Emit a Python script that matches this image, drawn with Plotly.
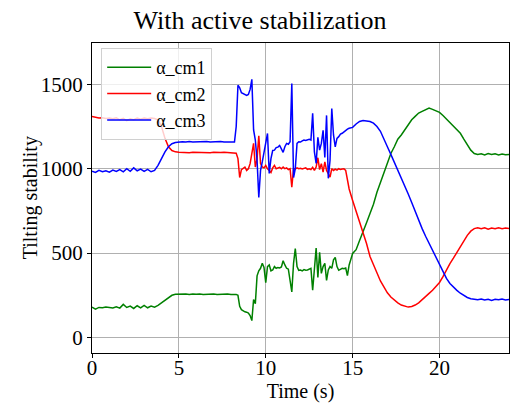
import numpy as np
import plotly.graph_objects as go

# time axis (s): coarse, fine in the oscillating part, coarse again
t_a = np.round(np.arange(0.0, 8.21, 0.2), 1)
t_b = np.round(np.arange(8.3, 14.81, 0.1), 1)
t_c = np.round(np.arange(15.0, 24.01, 0.2), 1)
time = np.concatenate([t_a, t_b, t_c])

cm1_a = [180, 168, 178, 176, 180, 177, 175, 182, 174, 196, 178, 186, 172, 188, 175, 190, 176, 186, 180, 190,
         205, 222, 238, 250, 256, 258, 257, 258, 255, 258, 256, 258, 255, 257, 256, 258, 255, 257, 256, 258, 255, 257]
cm1_b = [255, 250, 185, 165, 158, 152, 150, 145, 130, 100, 225, 200, 365, 395, 410, 440, 415, 325, 420, 430,
         395, 400, 420, 410, 415, 412, 418, 455, 430, 410, 405, 340, 270, 440, 527, 420, 398, 400, 395, 402,
         398, 400, 405, 410, 280, 400, 530, 355, 505, 380, 420, 440, 338, 400, 420, 410, 460, 475, 420, 398,
         405, 410, 408, 412, 367, 430]
cm1_c = [498, 520, 575, 622, 680, 735, 790, 860, 920, 980, 1040, 1090, 1130, 1175, 1200, 1230, 1260, 1290, 1310, 1330,
         1340, 1350, 1360, 1352, 1345, 1334, 1315, 1295, 1274, 1255, 1230, 1210, 1175, 1140, 1110, 1090, 1085, 1088, 1082, 1090,
         1084, 1088, 1082, 1087, 1083, 1085]

cm2_a = [1310, 1305, 1300, 1302, 1298, 1300, 1296, 1302, 1290, 1298, 1285, 1296, 1290, 1300, 1294, 1300, 1296, 1300, 1298, 1290,
         1250, 1180, 1130, 1108, 1100, 1098, 1096, 1097, 1095, 1097, 1096, 1095, 1097, 1096, 1095, 1097, 1095, 1096, 1097, 1095,
         1096, 1094]
cm2_b = [1092, 1060, 948, 995, 1005, 1010, 990, 1000, 1030, 1080, 1150, 1010, 1060, 1195, 1030, 1010, 1005, 1020, 1000, 990,
         978, 1005, 1020, 1000, 1005, 1008, 1000, 1010, 1000, 1005, 995, 1000, 890, 1000, 998, 1005, 1000, 1002, 998, 1000,
         1005, 996, 1000, 995, 1008, 990, 1010, 1065, 995, 1030, 980, 1040, 990, 970, 950, 1000, 990, 998, 992, 1000,
         995, 998, 1000, 990, 930, 880]
cm2_c = [812, 750, 693, 625, 557, 480, 430, 380, 335, 300, 265, 240, 222, 205, 192, 186, 180, 184, 192, 205,
         222, 240, 261, 280, 300, 326, 360, 400, 438, 470, 505, 540, 575, 605, 630, 645, 650, 645, 650, 642,
         648, 644, 650, 645, 648, 645]

cm3_a = [985, 978, 990, 982, 988, 980, 992, 984, 995, 982, 1000, 985, 1005, 988, 998, 984, 996, 982, 990, 1020,
         1060, 1100, 1130, 1148, 1155, 1158, 1160, 1158, 1161, 1159, 1160, 1158, 1160, 1161, 1158, 1160, 1159, 1161, 1158, 1160,
         1159, 1158]
cm3_b = [1250, 1495, 1480, 1450, 1445, 1440, 1435, 1440, 1470, 1530, 1230, 1170, 1050, 830, 990, 1040, 1090, 1150, 1209, 972,
         1060, 1108, 1110, 1125, 1128, 1138, 1120, 1097, 1130, 1150, 1145, 1160, 1505, 948, 1000, 1150, 1160, 1158, 1165, 1170,
         1168, 1172, 1175, 1170, 1328, 1100, 1031, 1186, 1110, 1150, 1227, 1067, 1316, 943, 1050, 1357, 1200, 1130, 1180, 1190,
         1205, 1210, 1220, 1227, 1235, 1240]
cm3_c = [1245, 1265, 1280, 1286, 1285, 1280, 1270, 1250, 1222, 1180, 1130, 1085, 1040, 995, 950, 900, 850, 800, 745, 690,
         645, 600, 557, 515, 478, 438, 392, 350, 320, 298, 279, 262, 248, 237, 230, 228, 224, 228, 222, 226,
         220, 227, 223, 228, 222, 225]

series = [
    ("α_cm1", cm1_a + cm1_b + cm1_c, "green"),
    ("α_cm2", cm2_a + cm2_b + cm2_c, "red"),
    ("α_cm3", cm3_a + cm3_b + cm3_c, "blue"),
]

x_ticks = [0, 5, 10, 15, 20]
y_ticks = [0, 500, 1000, 1500]

fig = go.Figure()
for name, vals, col in series:
    fig.add_trace(go.Scatter(x=time, y=vals, mode="lines", name=name,
                             line=dict(color=col, width=1.5)))

serif = "Liberation Serif"
fig.update_layout(
    width=517, height=404,
    margin=dict(l=92, r=8, t=43, b=51, autoexpand=False),
    paper_bgcolor="white", plot_bgcolor="white",
    font=dict(family=serif, size=20, color="black"),
    title=dict(text="With active stabilization", x=0.503, xanchor="center",
               y=0.95, yanchor="middle", font=dict(family=serif, size=26, color="black")),
    showlegend=True,
    legend=dict(x=0.022, y=0.984, xanchor="left", yanchor="top",
                bgcolor="rgba(255,255,255,0.8)", bordercolor="#d0d0d0", borderwidth=1,
                font=dict(family=serif, size=18, color="black"),
                tracegroupgap=0, itemwidth=44),
    annotations=[dict(text="Tilting stability", xref="paper", yref="paper",
                      x=-0.148, y=0.5, xanchor="center", yanchor="middle",
                      textangle=-90, showarrow=False,
                      font=dict(family=serif, size=20, color="black"))],
)
axis_common = dict(showgrid=True, gridcolor="#b0b0b0", gridwidth=1,
                   showline=True, linecolor="black", linewidth=1, mirror=True,
                   ticks="outside", ticklen=4, tickcolor="black", zeroline=False,
                   automargin=False,
                   tickfont=dict(family=serif, size=21, color="black"))
fig.update_xaxes(range=[0, 24], tickvals=x_ticks, ticklabelstandoff=-8,
                 title=dict(text="Time (s)", standoff=2, font=dict(family=serif, size=20)),
                 **axis_common)
fig.update_yaxes(range=[-92, 1745], tickvals=y_ticks, **axis_common)

fig.write_html("out.html")
